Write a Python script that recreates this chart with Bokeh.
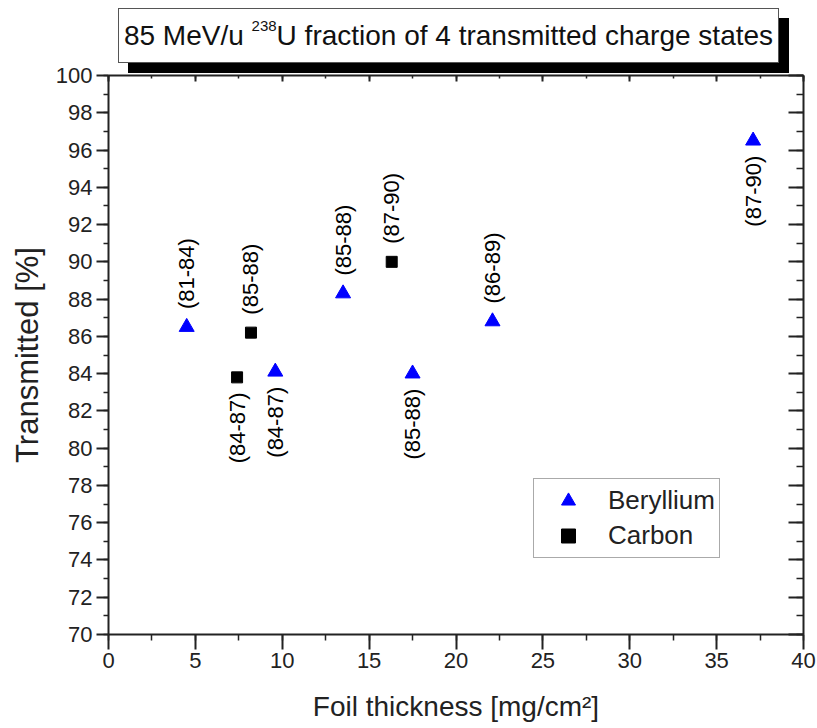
from math import pi
from bokeh.plotting import figure
from bokeh.layouts import column
from bokeh.models import (LinearAxis, SingleIntervalTicker, Range1d, Div,
                          Legend, LegendItem, ColumnDataSource)
from bokeh.embed import file_html
from bokeh.resources import INLINE

# ---- data ----
be_x = [4.5, 9.6, 13.5, 17.5, 22.1, 37.1]
be_y = [86.5, 84.1, 88.3, 84.0, 86.8, 96.5]
be_labels = ["(81-84)", "(84-87)", "(85-88)", "(85-88)", "(86-89)", "(87-90)"]
be_side = ["above", "below", "above", "below", "above", "below"]

c_x = [7.4, 8.2, 16.3]
c_y = [83.8, 86.2, 90.0]
c_labels = ["(84-87)", "(85-88)", "(87-90)"]
c_side = ["below", "above", "above"]

title_main = "85 MeV/u"
title_sup = "238"
title_rest = "U fraction of 4 transmitted charge states"
x_label = "Foil thickness [mg/cm\u00b2]"
y_label = "Transmitted [%]"

FONT = "Liberation Sans"

# ---- title box (HTML, with drop shadow) ----
title_html = (
    '<div style="margin-left:118px; margin-top:8px; width:661px; height:55px; '
    'box-sizing:border-box; border:1.5px solid #555555; background:white; '
    'box-shadow:10px 10px 0px #000000; font-family:\'Liberation Sans\'; '
    'font-size:28px; color:#111111; display:flex; align-items:center; '
    'justify-content:center; white-space:nowrap;">'
    f'<span>{title_main}&nbsp;<sup style="font-size:15px; position:relative; top:-3px;">'
    f'{title_sup}</sup>{title_rest}</span>'
    '</div>'
)
div = Div(text=title_html, width=817, height=60, margin=0,
          styles={"overflow": "visible", "z-index": "2"})

p = figure(width=817, height=668, x_range=Range1d(0, 40), y_range=Range1d(70, 100),
           output_backend="svg", toolbar_location=None, margin=0,
           min_border_left=108, min_border_right=14, min_border_top=15, min_border_bottom=94)
p.xgrid.visible = False
p.ygrid.visible = False
p.outline_line_color = None
p.background_fill_color = "white"
p.border_fill_color = None


def style_axis(ax):
    ax.axis_line_width = 2
    ax.axis_line_color = "#222222"
    ax.major_tick_line_width = 2
    ax.major_tick_line_color = "#222222"
    ax.minor_tick_line_width = 1.5
    ax.minor_tick_line_color = "#222222"
    ax.major_label_text_font = FONT
    ax.major_label_text_font_size = "22px"
    ax.major_label_text_color = "#222222"
    ax.axis_label_text_font = FONT
    ax.axis_label_text_font_style = "normal"
    ax.axis_label_text_color = "#222222"


xa = p.xaxis[0]
xa.ticker = SingleIntervalTicker(interval=5, num_minor_ticks=2)
style_axis(xa)
xa.major_tick_in = 0
xa.major_tick_out = 15
xa.minor_tick_in = 0
xa.minor_tick_out = 6
xa.major_label_standoff = 3
xa.axis_label = x_label
xa.axis_label_text_font_size = "28px"
xa.axis_label_standoff = 20

ya = p.yaxis[0]
ya.ticker = SingleIntervalTicker(interval=2, num_minor_ticks=2)
style_axis(ya)
ya.major_tick_in = 0
ya.major_tick_out = 12
ya.minor_tick_in = 0
ya.minor_tick_out = 5
ya.major_label_standoff = 4
ya.axis_label = y_label
ya.axis_label_text_font_size = "31px"
ya.axis_label_standoff = 8

top = LinearAxis(ticker=SingleIntervalTicker(interval=5, num_minor_ticks=2))
style_axis(top)
top.major_tick_in = 6
top.major_tick_out = 0
top.minor_tick_in = 3
top.minor_tick_out = 0
top.major_label_text_font_size = "1px"
top.major_label_text_color = None
top.major_label_standoff = 0
p.add_layout(top, "above")

right = LinearAxis(ticker=SingleIntervalTicker(interval=2, num_minor_ticks=2))
style_axis(right)
right.major_tick_in = 15
right.major_tick_out = 0
right.minor_tick_in = 7
right.minor_tick_out = 0
right.major_label_text_font_size = "1px"
right.major_label_text_color = None
right.major_label_standoff = 0
p.add_layout(right, "right")

# ---- markers ----
r_be = p.scatter(be_x, be_y, marker="triangle", size=15, fill_color="#0000FF",
                 line_color="#0000FF")
r_c = p.scatter(c_x, c_y, marker="square", size=11, fill_color="black",
                line_color="black")


# ---- rotated annotations ----
def split(xs, ys, labs, sides, which):
    idx = [i for i, s in enumerate(sides) if s == which]
    return dict(x=[xs[i] for i in idx], y=[ys[i] for i in idx], t=[labs[i] for i in idx])


for xs, ys, labs, sides in [(be_x, be_y, be_labels, be_side), (c_x, c_y, c_labels, c_side)]:
    up = ColumnDataSource(split(xs, ys, labs, sides, "above"))
    dn = ColumnDataSource(split(xs, ys, labs, sides, "below"))
    p.text(x="x", y="y", text="t", source=up, angle=pi / 2, text_align="left",
           text_baseline="middle", y_offset=-18, text_font_size="22px",
           text_font={"value": FONT}, text_color="black")
    p.text(x="x", y="y", text="t", source=dn, angle=pi / 2, text_align="right",
           text_baseline="middle", y_offset=15, text_font_size="22px",
           text_font={"value": FONT}, text_color="black")

# ---- legend ----
legend = Legend(items=[LegendItem(label="Beryllium", renderers=[r_be]),
                       LegendItem(label="Carbon", renderers=[r_c])],
                location=(425, 76), padding=4, margin=0, spacing=0,
                glyph_width=60, glyph_height=35, label_height=35, label_standoff=10,
                label_text_font=FONT, label_text_font_size="26px",
                label_text_color="#222222",
                border_line_color="#555555", border_line_width=1.5,
                background_fill_color="white", background_fill_alpha=1)
p.add_layout(legend)

layout = column(div, p, spacing=0)
open("out.html", "w").write(file_html(layout, INLINE))
